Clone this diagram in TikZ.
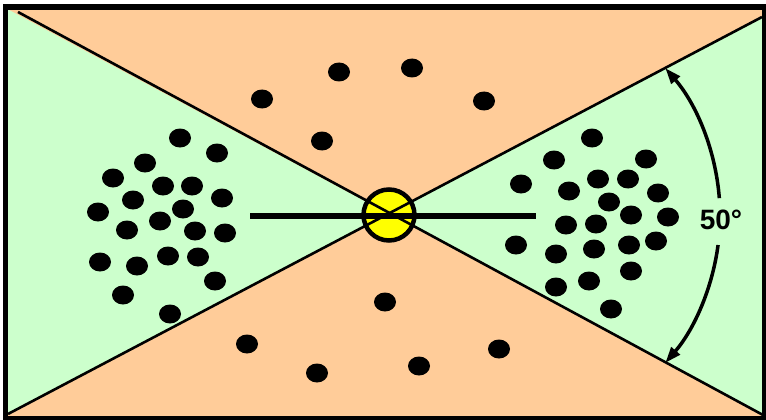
\documentclass[tikz,border=0pt]{standalone}
\usepackage{fontspec}
\setmainfont{Liberation Sans}
\usetikzlibrary{arrows.meta}
\definecolor{paleGreen}{HTML}{CCFFCC}
\definecolor{peach}{HTML}{FFCC99}
\definecolor{brightYellow}{HTML}{FFFF00}
\begin{document}
\begin{tikzpicture}[x=1pt,y=-1pt,
  dot/.style={fill=black},
  divider/.style={draw=black,line width=2.6pt},
  angarrow/.style={draw=black,line width=3.5pt,-{Triangle[length=16pt,width=11pt]}}]
\useasboundingbox (0,0) rectangle (766,420);
% background regions
\fill[paleGreen] (5,7) rectangle (765,418);
\fill[peach] (5,7) -- (5,7.6) -- (389,214) -- (765,15.4) -- (765,7) -- cycle;
\fill[peach] (5,418) -- (5,415.6) -- (389,214) -- (765,416.1) -- (765,418) -- cycle;
% coordinates
\coordinate (C) at (389,214);
\coordinate (TL) at (18,12);
\coordinate (BR) at (763,415);
\coordinate (TR) at (762,17);
\coordinate (BL) at (8,414);
\coordinate (barL) at (250,216);
\coordinate (barR) at (536,216);
\coordinate (A) at (494,215.5);
% yellow disc
\fill[brightYellow] (389,215) circle[radius=25.5];
% dividing lines
\draw[divider] (TL) -- (BR);
\draw[divider] (TR) -- (BL);
% horizontal bar
\draw[line width=5.5pt] (barL) -- (barR);
% ring
\draw[line width=4.5pt] (389,215) circle[radius=25.5];
% dots
\foreach \p in {(180,138),(217,153),(145,163),(113,178),(163,186),(192,186),(222,198),(133,200),(98,212),(183,209),(160,221),(127,230),(195,231),(225,233),(100,262),(137,266),(168,256),(198,257),(215,281),(123,295),(170,314),
  (262,99),(339,72),(412,68),(484,101),(322,141),
  (385,302),(247,344),(317,373),(419,366),(499,349),
  (592,138),(554,160),(646,159),(521,184),(569,191),(598,179),(628,179),(658,193),(609,202),(631,215),(668,217),(566,225),(596,224),(516,245),(556,254),(594,249),(629,245),(656,241),(556,287),(589,281),(631,271),(611,309)}
  \fill[dot] \p ellipse[x radius=11,y radius=9.5];
% angle arrows
\draw[angarrow] (A) ++(-4.4:226) arc[start angle=-4.4,end angle=-40.7,radius=226];
\draw[angarrow] (A) ++(7.5:226) arc[start angle=7.5,end angle=40.7,radius=226];
\node[font=\fontsize{28}{32}\selectfont\bfseries,inner sep=0pt] (lbl) at (721,220) {50°};
% frame
\draw[line width=5.5pt] (5.5,7) rectangle (765,418.5);
\end{tikzpicture}
\end{document}
